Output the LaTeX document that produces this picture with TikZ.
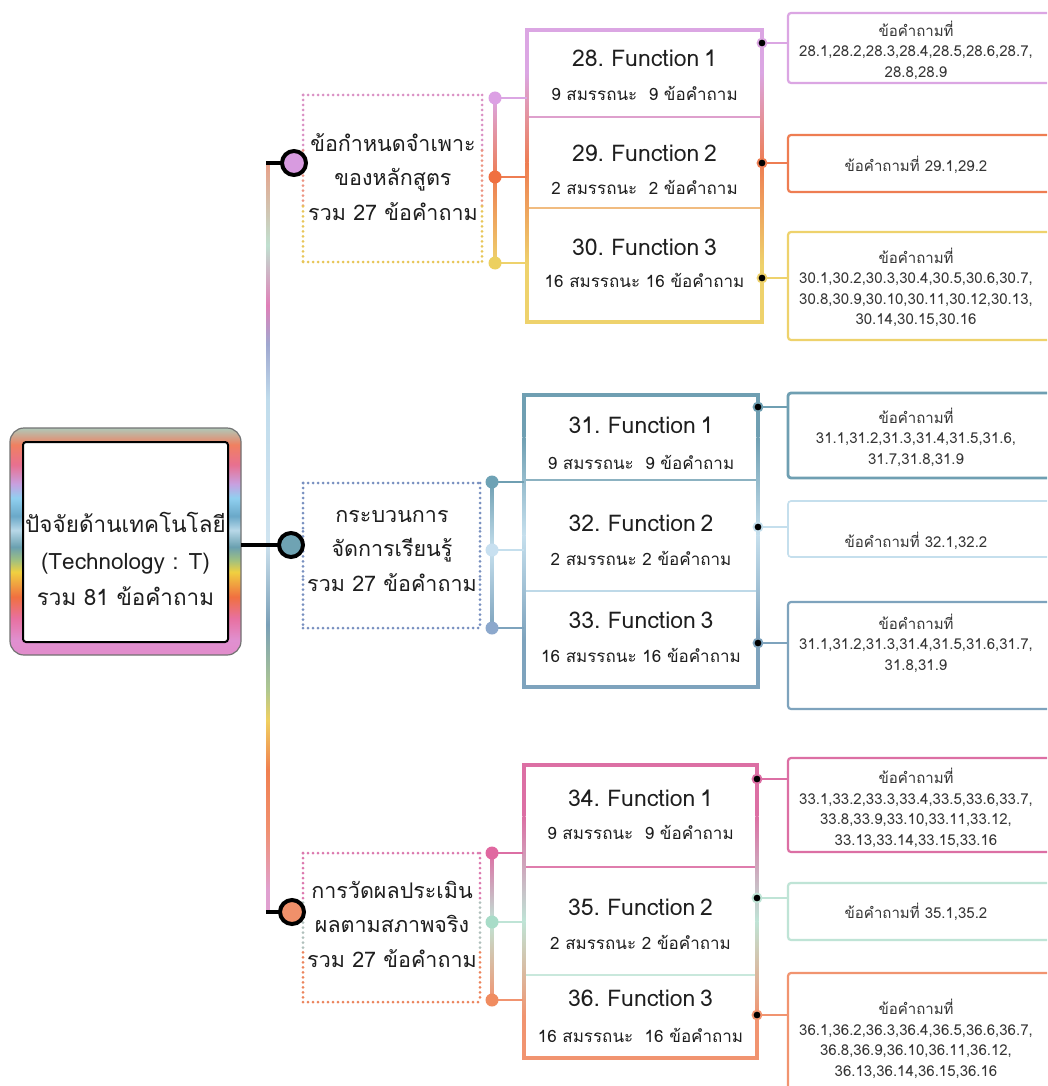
\documentclass[tikz,border=0pt]{standalone}
\usepackage{fontspec}
\setmainfont{Loma}[Script=Thai]
\newfontfamily\titlefont{Loma}[Script=Thai, WordSpace=0.6]
\usetikzlibrary{calc}

% ---------- palette ----------
\definecolor{ink}{HTML}{1E1E1E}
\definecolor{cLilac}{HTML}{DBA6E3}
\definecolor{cOrange}{HTML}{EE7D52}
\definecolor{cYellow}{HTML}{EED26C}
\definecolor{cTeal}{HTML}{6F9FB2}
\definecolor{cSky}{HTML}{C5DFED}
\definecolor{cSlate}{HTML}{7EA3BD}
\definecolor{cPink}{HTML}{DC6FA4}
\definecolor{cMint}{HTML}{BFE4D6}
\definecolor{cSalmon}{HTML}{F19470}
\definecolor{hubA}{HTML}{D89BE0}
\definecolor{hubB}{HTML}{6FA3B3}
\definecolor{hubC}{HTML}{F0906A}
% branch dots
\definecolor{dA}{HTML}{DCA0E4}
\definecolor{dB}{HTML}{F07040}
\definecolor{dC}{HTML}{ECD060}
\definecolor{dD}{HTML}{6EA2B5}
\definecolor{dE}{HTML}{C8E0F0}
\definecolor{dF}{HTML}{8CA8CC}
\definecolor{dG}{HTML}{E068A0}
\definecolor{dH}{HTML}{A8DCC8}
\definecolor{dI}{HTML}{F08C60}
% dotted frames
\definecolor{fA}{HTML}{DA90C4}
\definecolor{fB}{HTML}{EC9482}
\definecolor{fC}{HTML}{E8C658}
\definecolor{fD}{HTML}{7890C0}
\definecolor{fE}{HTML}{DC78AE}
\definecolor{fF}{HTML}{B0C0BC}
\definecolor{fG}{HTML}{EC845C}

% root frame band (bottom to top)
\definecolor{rrA}{HTML}{E28CCB}
\definecolor{rrB}{HTML}{E090D0}
\definecolor{rrC}{HTML}{E870A0}
\definecolor{rrD}{HTML}{F07040}
\definecolor{rrE}{HTML}{F0D040}
\definecolor{rrF}{HTML}{A0C080}
\definecolor{rrG}{HTML}{6AA0B0}
\definecolor{rrH}{HTML}{B8D8E8}
\definecolor{rrI}{HTML}{6AA8C8}
\definecolor{rrJ}{HTML}{90D0F0}
\definecolor{rrK}{HTML}{C8A0E0}
\definecolor{rrL}{HTML}{E87090}
\definecolor{rrM}{HTML}{F08060}
\definecolor{rrN}{HTML}{B0C8B8}
\pgfdeclareverticalshading{rootring}{100bp}{color(0bp)=(rrA); color(25bp)=(rrA);
 color(28.3bp)=(rrB); color(33.1bp)=(rrC); color(37.8bp)=(rrD); color(43.3bp)=(rrE);
 color(45.9bp)=(rrF); color(48.8bp)=(rrG); color(52.5bp)=(rrH); color(55.6bp)=(rrI);
 color(59.6bp)=(rrJ); color(62.7bp)=(rrK); color(66.9bp)=(rrL); color(71.3bp)=(rrM);
 color(75bp)=(rrN); color(100bp)=(rrN)}

% trunk line (bottom to top)
\definecolor{tkA}{HTML}{E0A0D0}
\definecolor{tkB}{HTML}{F09070}
\definecolor{tkC}{HTML}{F08050}
\definecolor{tkD}{HTML}{F0D060}
\definecolor{tkE}{HTML}{B0C890}
\definecolor{tkF}{HTML}{7AA0B8}
\definecolor{tkG}{HTML}{D0E4F0}
\definecolor{tkH}{HTML}{C0DCEC}
\definecolor{tkI}{HTML}{A0A8D0}
\definecolor{tkJ}{HTML}{E080B8}
\definecolor{tkK}{HTML}{C0E0D0}
\definecolor{tkL}{HTML}{E8A088}
\pgfdeclareverticalshading{trunk}{100bp}{color(0bp)=(tkA); color(26.5bp)=(tkA);
 color(30.5bp)=(tkB); color(34.5bp)=(tkC); color(37.8bp)=(tkD); color(39.8bp)=(tkE);
 color(44.2bp)=(tkF); color(49.8bp)=(tkG); color(59.2bp)=(tkH); color(62.9bp)=(tkI);
 color(65.5bp)=(tkJ); color(69.5bp)=(tkK); color(75bp)=(tkL); color(100bp)=(tkL)}

% vertical edge that blends three colours: x, ytop, y1, y2, y3, ybottom, c1, c2, c3
\def\barw{3.2}
\newcommand\vgrad[9]{%
  \fill[#7] ({#1-\barw/2},#2) rectangle ({#1+\barw/2},#3);
  \shade[top color=#7,bottom color=#8] ({#1-\barw/2},#3) rectangle ({#1+\barw/2},#4);
  \shade[top color=#8,bottom color=#9] ({#1-\barw/2},#4) rectangle ({#1+\barw/2},#5);
  \fill[#9] ({#1-\barw/2},#5) rectangle ({#1+\barw/2},#6);}

% dotted frame: x0, y0, x1, y1, upper, middle, lower colour
\newcommand\dotframe[7]{%
  \draw[dotline,#5] (#1,#2) -- (#3,#2);
  \draw[dotline,#7] (#1,#4) -- (#3,#4);
  \foreach \xx in {#1,#3}{%
    \draw[dotline,#5] (\xx,#2) -- (\xx,{#2+(#4-#2)/3});
    \draw[dotline,#6] (\xx,{#2+(#4-#2)/3}) -- (\xx,{#2+2*(#4-#2)/3});
    \draw[dotline,#7] (\xx,{#2+2*(#4-#2)/3}) -- (\xx,#4);}}

\begin{document}
\begin{tikzpicture}[x=1pt,y=-1pt,
  every node/.style={inner sep=0pt, outer sep=0pt, text=ink},
  hub/.style={circle, draw=black, line width=4pt, minimum size=24pt},
  bdot/.style={circle, fill=#1, minimum size=13pt},
  edot/.style={circle, fill=black, draw=#1, line width=1.8pt, minimum size=9pt},
  sec/.style={rectangle, minimum width=235pt},
  ftitle/.style={font=\titlefont\fontsize{23}{27}\selectfont},
  fsub/.style={font=\fontsize{17}{20}\selectfont},
  qbox/.style={rectangle, draw=#1, line width=2.2pt, fill=white, rounded corners=3pt, minimum width=266pt},
  qtext/.style={align=center, font=\fontsize{15}{20.5}\selectfont, text=ink!90},
  grptext/.style={align=center, font=\fontsize{21.5}{34.5}\selectfont},
  roottext/.style={align=center, font=\fontsize{22.5}{36.5}\selectfont},
  dotline/.style={line width=3pt, line cap=round, dash pattern=on 0pt off 5pt},
  link/.style={line width=2.2pt},
  blackline/.style={black, line width=4pt}]

\path[use as bounding box] (0,0) rectangle (1047,1086);
\fill[white] (0,0) rectangle (1047,1086);
\begin{scope}
\clip (0,0) rectangle (1047,1086);

% ---------- root ----------
\shade[shading=rootring, rounded corners=14pt] (10,428) rectangle (241,655);
\draw[black!55, line width=1.2pt, rounded corners=14pt] (10,428) rectangle (241,655);
\node[rectangle, draw=black, line width=2pt, fill=white, rounded corners=3pt,
      minimum width=205pt, minimum height=200pt] (root) at (125.5,542) {};
\node[roottext] (rootT) at (125.5,559) {ปัจจัยด้านเทคโนโลยี\\(Technology : T)\\รวม 81 ข้อคำถาม};
\coordinate (rootR) at (241,545);

% ---------- trunk and hubs ----------
\coordinate (tTop) at (268,163);
\coordinate (tBot) at (268,912);
\shade[shading=trunk] ($(tTop)+(-1.6,0)$) rectangle ($(tBot)+(1.6,0)$);

% ---------- group frames ----------
\dotframe{303}{95}{482}{262}{fA}{fB}{fC}
\node[grptext] (g1) at (393,177) {ข้อกำหนดจำเพาะ\\ของหลักสูตร\\รวม 27 ข้อคำถาม};
\dotframe{303}{483}{480}{628}{fD}{fD}{fD}
\node[grptext] (g2) at (392,551) {กระบวนการ\\จัดการเรียนรู้\\รวม 27 ข้อคำถาม};
\dotframe{303}{853}{480}{1002}{fE}{fF}{fG}
\node[grptext] (g3) at (392,924) {การวัดผลประเมิน\\ผลตามสภาพจริง\\รวม 27 ข้อคำถาม};

\node[hub, fill=hubA] (c1) at (294,163) {};
\node[hub, fill=hubB] (c2) at (291,545) {};
\node[hub, fill=hubC] (c3) at (292,912) {};
\draw[blackline] ($(tTop)+(-1.6,0)$) -- (c1);
\draw[blackline] (rootR) -- (c2);
\draw[blackline] ($(tBot)+(-1.6,0)$) -- (c3);

% ---------- function boxes: geometry ----------
\node[sec, minimum height=87pt]  (f28) at (644.5,73.5) {};
\node[sec, minimum height=91pt]  (f29) at (644.5,162.5) {};
\node[sec, minimum height=114pt] (f30) at (644.5,265) {};
\node[sec, minimum height=85pt]  (f31) at (641,437.5) {};
\node[sec, minimum height=111pt] (f32) at (641,535.5) {};
\node[sec, minimum height=96pt]  (f33) at (641,639) {};
\node[sec, minimum height=102pt] (f34) at (640.5,816) {};
\node[sec, minimum height=108pt] (f35) at (640.5,921) {};
\node[sec, minimum height=83pt]  (f36) at (640.5,1016.5) {};

% frame 28-30
\draw[cLilac, line width=3.2pt] (527,30) -- (762,30);
\draw[cLilac!85!cOrange, line width=2.2pt] (527,117) -- (762,117);
\draw[cOrange!45!cYellow!80!white, line width=2pt] (527,208) -- (762,208);
\draw[cYellow, line width=3.2pt] (527,322) -- (762,322);
\vgrad{527}{28.4}{73}{163}{265}{323.6}{cLilac}{cOrange}{cYellow}
\vgrad{762}{28.4}{73}{163}{265}{323.6}{cLilac}{cOrange}{cYellow}
% frame 31-33
\draw[cTeal, line width=4pt] (524,395) -- (758,395);
\draw[cTeal!80!white, line width=2.4pt] (524,480) -- (758,480);
\draw[cSky!90!cSlate, line width=1.6pt] (524,591) -- (758,591);
\draw[cSlate, line width=3.2pt] (524,687) -- (758,687);
\vgrad{524}{393}{437}{535}{639}{688.6}{cTeal}{cSky}{cSlate}
\vgrad{758}{393}{437}{535}{639}{688.6}{cTeal}{cSky}{cSlate}
% frame 34-36
\draw[cPink, line width=3.2pt] (524,765) -- (757,765);
\draw[cPink!90!white, line width=2.4pt] (524,867) -- (757,867);
\draw[cMint!85!white, line width=1.6pt] (524,975) -- (757,975);
\draw[cSalmon, line width=3.2pt] (524,1058) -- (757,1058);
\vgrad{524}{763.4}{816}{921}{1016}{1059.6}{cPink}{cMint}{cSalmon}
\vgrad{757}{763.4}{816}{921}{1016}{1059.6}{cPink}{cMint}{cSalmon}

% ---------- function texts ----------
\node[ftitle] (f28a) at (644.5,58)  {28. Function 1};
\node[fsub]   (f28b) at (644.5,93)  {9 สมรรถนะ\ \ 9 ข้อคำถาม};
\node[ftitle] (f29a) at (644.5,153) {29. Function 2};
\node[fsub]   (f29b) at (644.5,187) {2 สมรรถนะ\ \ 2 ข้อคำถาม};
\node[ftitle] (f30a) at (644.5,247) {30. Function 3};
\node[fsub]   (f30b) at (644.5,280) {16 สมรรถนะ 16 ข้อคำถาม};
\node[ftitle] (f31a) at (641,425)   {31. Function 1};
\node[fsub]   (f31b) at (641,462)   {9 สมรรถนะ\ \ 9 ข้อคำถาม};
\node[ftitle] (f32a) at (641,523)   {32. Function 2};
\node[fsub]   (f32b) at (641,558)   {2 สมรรถนะ 2 ข้อคำถาม};
\node[ftitle] (f33a) at (641,620)   {33. Function 3};
\node[fsub]   (f33b) at (641,655)   {16 สมรรถนะ 16 ข้อคำถาม};
\node[ftitle] (f34a) at (640.5,798) {34. Function 1};
\node[fsub]   (f34b) at (640.5,832) {9 สมรรถนะ\ \ 9 ข้อคำถาม};
\node[ftitle] (f35a) at (640.5,907) {35. Function 2};
\node[fsub]   (f35b) at (640.5,942) {2 สมรรถนะ 2 ข้อคำถาม};
\node[ftitle] (f36a) at (640.5,998) {36. Function 3};
\node[fsub]   (f36b) at (640.5,1035) {16 สมรรถนะ\ \ 16 ข้อคำถาม};

% ---------- branch bars, dots and links into the function boxes ----------
\coordinate (b28) at (495,98);
\coordinate (b29) at (495,177);
\coordinate (b30) at (495,263);
\coordinate (b31) at (492,482);
\coordinate (b32) at (492,550);
\coordinate (b33) at (492,628);
\coordinate (b34) at (492,853);
\coordinate (b35) at (492,922);
\coordinate (b36) at (492,1000);
\shade[top color=cLilac, bottom color=cOrange] ($(b28)+(-1.3,0)$) rectangle ($(b29)+(1.3,0)$);
\shade[top color=cOrange, bottom color=cYellow] ($(b29)+(-1.3,0)$) rectangle ($(b30)+(1.3,0)$);
\shade[top color=cTeal, bottom color=cSky] ($(b31)+(-1.3,0)$) rectangle ($(b32)+(1.3,0)$);
\shade[top color=cSky, bottom color=cSlate] ($(b32)+(-1.3,0)$) rectangle ($(b33)+(1.3,0)$);
\shade[top color=cPink, bottom color=cMint] ($(b34)+(-1.3,0)$) rectangle ($(b35)+(1.3,0)$);
\shade[top color=cMint, bottom color=cSalmon] ($(b35)+(-1.3,0)$) rectangle ($(b36)+(1.3,0)$);
\draw[link, cLilac]  (b28) -- (b28 -| f28.west);
\draw[link, cOrange] (b29) -- (b29 -| f29.west);
\draw[link, cYellow] (b30) -- (b30 -| f30.west);
\draw[link, cTeal]   (b31) -- (b31 -| f31.west);
\draw[link, cSky]    (b32) -- (b32 -| f32.west);
\draw[link, cSlate]  (b33) -- (b33 -| f33.west);
\draw[link, cPink]   (b34) -- (b34 -| f34.west);
\draw[link, cMint]   (b35) -- (b35 -| f35.west);
\draw[link, cSalmon] (b36) -- (b36 -| f36.west);
\node[bdot=dA] (d28) at (b28) {};
\node[bdot=dB] (d29) at (b29) {};
\node[bdot=dC] (d30) at (b30) {};
\node[bdot=dD] (d31) at (b31) {};
\node[bdot=dE] (d32) at (b32) {};
\node[bdot=dF] (d33) at (b33) {};
\node[bdot=dG] (d34) at (b34) {};
\node[bdot=dH] (d35) at (b35) {};
\node[bdot=dI] (d36) at (b36) {};

% ---------- question boxes ----------
\node[qbox=cLilac, minimum height=70pt]   (q28) at (921,48) {};
\node[qbox=cOrange, minimum height=57pt]  (q29) at (921,163.5) {};
\node[qbox=cYellow, minimum height=108pt] (q30) at (921,286) {};
\node[qbox=cTeal, line width=2.8pt, minimum height=85pt] (q31) at (921,435.5) {};
\node[qbox=cSky, line width=1.6pt, minimum height=56pt]  (q32) at (921,529) {};
\node[qbox=cSlate, minimum height=107pt]  (q33) at (921,655.5) {};
\node[qbox=cPink, minimum height=94pt]    (q34) at (921,805) {};
\node[qbox=cMint, minimum height=57pt]    (q35) at (921,911.5) {};
\node[qbox=cSalmon, minimum height=127pt] (q36) at (921,1036.5) {};

\node[qtext] (q28t) at (916,50)    {ข้อคำถามที่\\28.1,28.2,28.3,28.4,28.5,28.6,28.7,\\28.8,28.9};
\node[qtext] (q29t) at (916,165)   {ข้อคำถามที่ 29.1,29.2};
\node[qtext] (q30t) at (916,287.5) {ข้อคำถามที่\\30.1,30.2,30.3,30.4,30.5,30.6,30.7,\\30.8,30.9,30.10,30.11,30.12,30.13,\\30.14,30.15,30.16};
\node[qtext] (q31t) at (916,437)   {ข้อคำถามที่\\31.1,31.2,31.3,31.4,31.5,31.6,\\31.7,31.8,31.9};
\node[qtext] (q32t) at (916,541)   {ข้อคำถามที่ 32.1,32.2};
\node[qtext] (q33t) at (916,643)   {ข้อคำถามที่\\31.1,31.2,31.3,31.4,31.5,31.6,31.7,\\31.8,31.9};
\node[qtext] (q34t) at (916,808)   {ข้อคำถามที่\\33.1,33.2,33.3,33.4,33.5,33.6,33.7,\\33.8,33.9,33.10,33.11,33.12,\\33.13,33.14,33.15,33.16};
\node[qtext] (q35t) at (916,912)   {ข้อคำถามที่ 35.1,35.2};
\node[qtext] (q36t) at (916,1039)  {ข้อคำถามที่\\36.1,36.2,36.3,36.4,36.5,36.6,36.7,\\36.8,36.9,36.10,36.11,36.12,\\36.13,36.14,36.15,36.16};

% ---------- end dots and links to the question boxes ----------
\coordinate (e28) at (762,43);
\coordinate (e29) at (762,163);
\coordinate (e30) at (762,278);
\coordinate (e31) at (758,407);
\coordinate (e32) at (758,527);
\coordinate (e33) at (758,643);
\coordinate (e34) at (757,779);
\coordinate (e35) at (757,898);
\coordinate (e36) at (757,1015);
\draw[link, cLilac]  (e28) -- (e28 -| q28.west);
\draw[link, cOrange] (e29) -- (e29 -| q29.west);
\draw[link, cYellow] (e30) -- (e30 -| q30.west);
\draw[link, cTeal]   (e31) -- (e31 -| q31.west);
\draw[link, cSky]    (e32) -- (e32 -| q32.west);
\draw[link, cSlate]  (e33) -- (e33 -| q33.west);
\draw[link, cPink]   (e34) -- (e34 -| q34.west);
\draw[link, cMint]   (e35) -- (e35 -| q35.west);
\draw[link, cSalmon] (e36) -- (e36 -| q36.west);
\node[edot=cLilac]  (r28) at (e28) {};
\node[edot=cOrange] (r29) at (e29) {};
\node[edot=cYellow] (r30) at (e30) {};
\node[edot=cTeal]   (r31) at (e31) {};
\node[edot=cSky]    (r32) at (e32) {};
\node[edot=cSlate]  (r33) at (e33) {};
\node[edot=cPink]   (r34) at (e34) {};
\node[edot=cMint]   (r35) at (e35) {};
\node[edot=cSalmon] (r36) at (e36) {};
\end{scope}
\end{tikzpicture}
\end{document}
